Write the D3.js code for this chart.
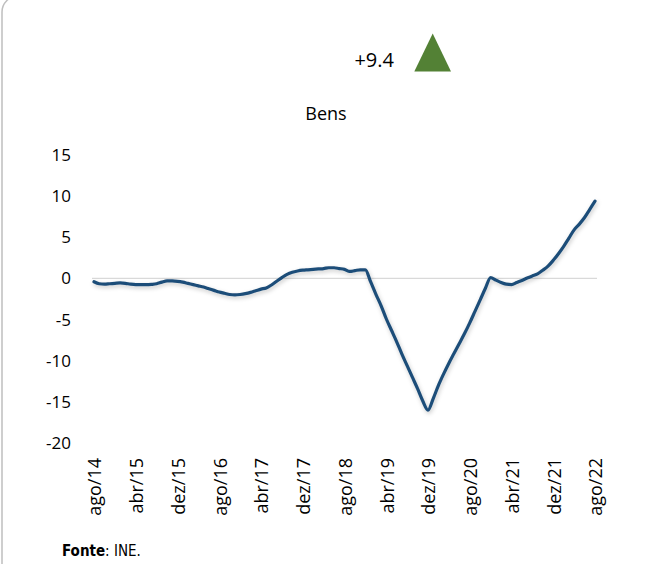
<!DOCTYPE html>
<html>
<head>
<meta charset="utf-8">
<script src="https://cdn.jsdelivr.net/npm/d3@7"></script>
<style>
  html, body { margin: 0; padding: 0; background: #fff; }
  svg { display: block; }
</style>
</head>
<body>
<svg id="chart" width="651" height="564"></svg>
<script>
'use strict';

// monthly values, ago/14 .. ago/22 (97 points)
const values = [
    -0.4, -0.65, -0.7, -0.65, -0.6, -0.55, -0.6, -0.7,
    -0.75, -0.75, -0.75, -0.72, -0.65, -0.45, -0.3, -0.3,
    -0.35, -0.45, -0.6, -0.75, -0.9, -1.05, -1.25, -1.45,
    -1.65, -1.8, -1.95, -2.0, -1.95, -1.85, -1.7, -1.5,
    -1.3, -1.15, -0.8, -0.35, 0.1, 0.5, 0.75, 0.9,
    1.0, 1.05, 1.1, 1.15, 1.2, 1.3, 1.3, 1.2,
    1.1, 0.85, 0.95, 1.05, 1.05, -0.4, -1.9, -3.3,
    -4.9, -6.3, -7.7, -9.2, -10.6, -12.0, -13.4, -14.9,
    -16.0, -14.6, -13.0, -11.6, -10.3, -9.1, -7.9, -6.7,
    -5.4, -4.0, -2.6, -1.2, 0.1, -0.2, -0.5, -0.7,
    -0.75, -0.5, -0.25, 0.05, 0.3, 0.55, 1.0, 1.5,
    2.2, 3.0, 3.9, 4.9, 5.9, 6.6, 7.4, 8.4,
    9.4
];

// one label every 8 months
const tickLabels = ['ago/14', 'abr/15', 'dez/15', 'ago/16', 'abr/17', 'dez/17', 'ago/18',
    'abr/19', 'dez/19', 'ago/20', 'abr/21', 'dez/21', 'ago/22'];
const tickStep = 8;
const yTicks = [15, 10, 5, 0, -5, -10, -15, -20];

const title = 'Bens';
const lastChange = '+9.4';
const source = 'INE.';

const lineColor = '#1F4E79',
    zeroColor = '#D9D9D9',
    arrowColor = '#538135',
    textColor = '#000000',
    font = '"Open Sans", "Noto Sans", sans-serif';

const svg = d3.select('#chart');

// shadow under the line, like the spreadsheet original
const defs = svg.append('defs');
defs.append('filter')
    .attr('id', 'shadow')
    .attr('x', '-10%').attr('y', '-10%')
    .attr('width', '120%').attr('height', '130%')
  .append('feDropShadow')
    .attr('dx', 1).attr('dy', 2)
    .attr('stdDeviation', 2)
    .attr('flood-color', '#000')
    .attr('flood-opacity', 0.22);

// frame
svg.append('rect')
    .attr('x', 2).attr('y', -4)
    .attr('width', 720).attr('height', 640)
    .attr('rx', 16).attr('ry', 16)
    .attr('fill', 'none')
    .attr('stroke', '#BFBFBF')
    .attr('stroke-width', 1.5);

const x = d3.scaleLinear()
    .domain([0, values.length - 1])
    .range([94, 595]);

const y = d3.scaleLinear()
    .domain([-20, 15])
    .range([443, 155]);

// indicator
svg.append('text')
    .attr('x', 394).attr('y', 67)
    .attr('text-anchor', 'end')
    .style('font-family', font)
    .style('font-size', '20px')
    .style('fill', textColor)
    .text(lastChange);

svg.append('path')
    .attr('d', d3.line()([[432.7, 33.5], [451, 71.5], [414.3, 71.5]]) + 'Z')
    .attr('fill', arrowColor);

// title
svg.append('text')
    .attr('x', 326).attr('y', 120)
    .attr('text-anchor', 'middle')
    .style('font-family', font)
    .style('font-size', '18px')
    .style('fill', textColor)
    .text(title);

// y axis labels (no axis line), plain hyphen for negatives
const yAxis = svg.append('g')
    .attr('transform', 'translate(71,0)')
    .call(d3.axisLeft(y)
        .tickValues(yTicks)
        .tickFormat(d => String(d))
        .tickSize(0)
        .tickPadding(0));
yAxis.select('.domain').remove();
yAxis.selectAll('text')
    .style('font-family', font)
    .style('font-size', '17px')
    .style('fill', textColor);

// zero line
svg.append('line')
    .attr('x1', 92).attr('x2', 597)
    .attr('y1', y(0)).attr('y2', y(0))
    .attr('stroke', zeroColor)
    .attr('stroke-width', 1.2);

// x labels, rotated
svg.append('g')
    .selectAll('text')
    .data(tickLabels)
    .join('text')
    .attr('transform', (d, i) => `translate(${x(i * tickStep) + 1},458) rotate(-90)`)
    .attr('dy', '0.35em')
    .attr('text-anchor', 'end')
    .style('font-family', font)
    .style('font-size', '18px')
    .style('fill', textColor)
    .text(d => d);

// series
svg.append('path')
    .datum(values)
    .attr('d', d3.line()
        .x((d, i) => x(i))
        .y(d => y(d))
        .curve(d3.curveMonotoneX))
    .attr('fill', 'none')
    .attr('stroke', lineColor)
    .attr('stroke-width', 3.2)
    .attr('stroke-linejoin', 'round')
    .attr('stroke-linecap', 'round')
    .attr('filter', 'url(#shadow)');

// source note
const note = svg.append('text')
    .attr('x', 62).attr('y', 556)
    .style('font-family', '"DejaVu Sans", sans-serif')
    .style('font-stretch', 'condensed')
    .style('font-size', '15px')
    .style('fill', textColor);
note.append('tspan').style('font-weight', 'bold').text('Fonte');
note.append('tspan').text(': ' + source);
</script>
</body>
</html>
